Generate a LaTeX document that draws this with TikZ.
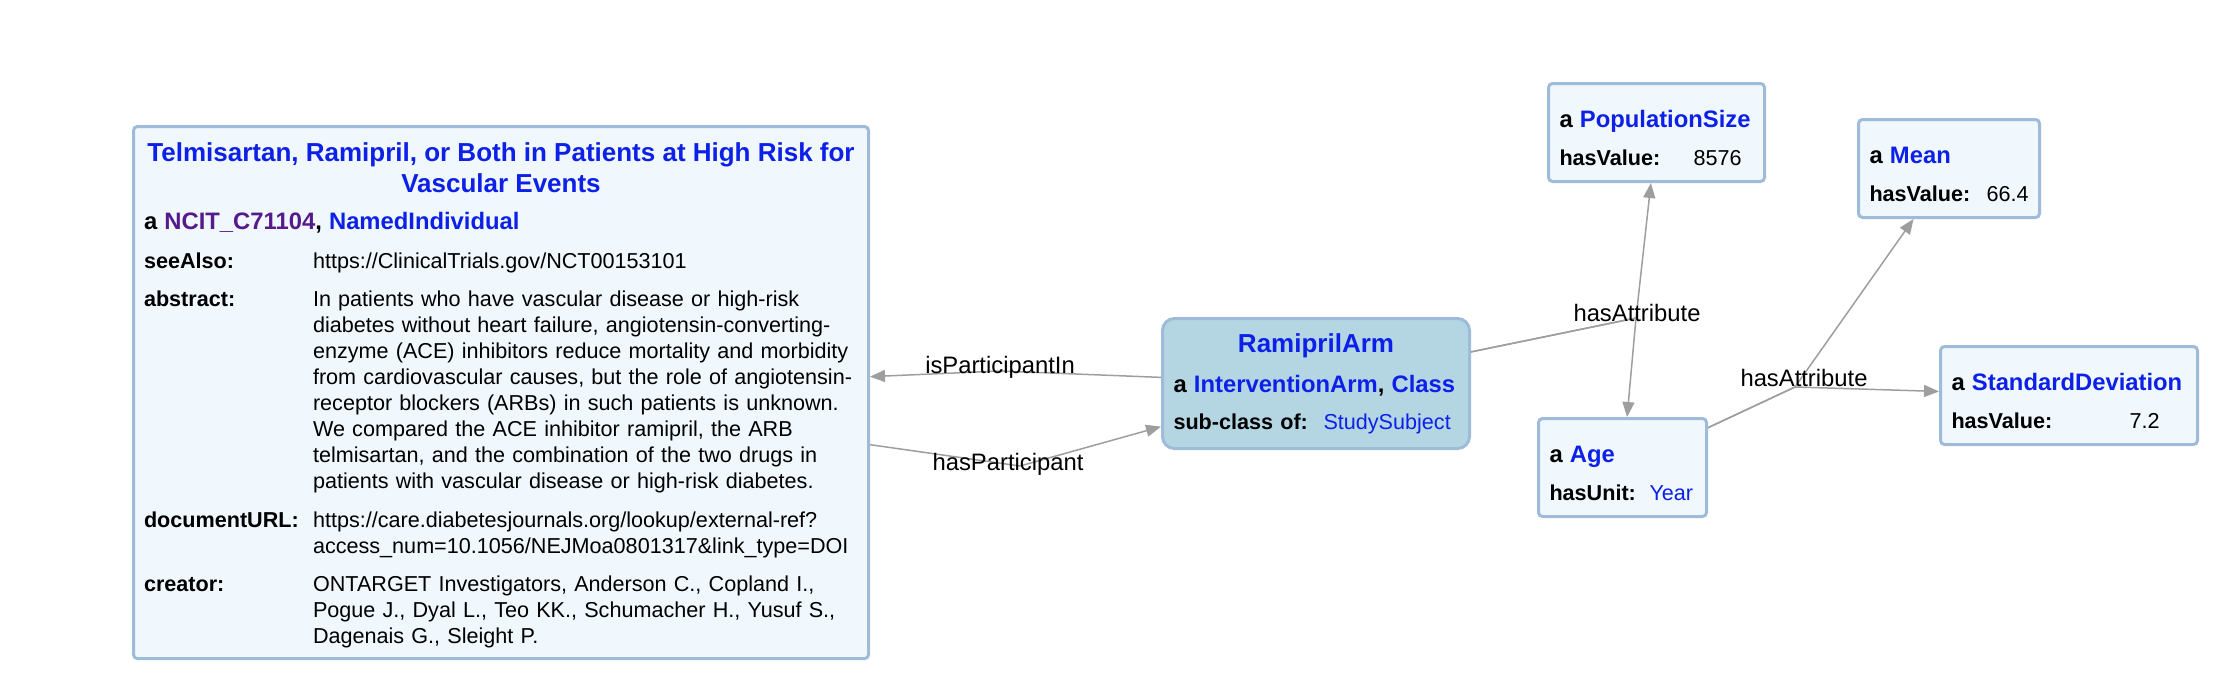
\documentclass[tikz,border=0pt]{standalone}
\usepackage{fontspec}
\setmainfont{Liberation Sans}
\usepackage{array}
\usetikzlibrary{arrows.meta}

\definecolor{linkblue}{RGB}{12,32,232}
\definecolor{visitedpurple}{RGB}{85,26,139}
\definecolor{cardfill}{RGB}{240,247,253}
\definecolor{armfill}{RGB}{180,214,227}
\definecolor{cardframe}{RGB}{158,187,218}
\definecolor{wire}{RGB}{158,158,158}

\newcommand{\heading}[1]{{\fontsize{26}{31}\selectfont\bfseries\color{linkblue}#1}}
\newcommand{\isa}[1]{\mbox{\fontsize{23.8}{28}\selectfont\bfseries a #1}}
\newcommand{\iri}[1]{\textcolor{linkblue}{#1}}
\newcommand{\field}[2]{\makebox[#1][l]{\bfseries #2}}
\newcommand{\topgap}{\rule{0pt}{44pt}}
\newcommand{\botgap}[1][16pt]{\rule[-#1]{0pt}{#1}}

\begin{document}
\begin{tikzpicture}[
  x=1pt,y=-1pt,
  font=\fontsize{21.6}{26}\selectfont,
  card/.style={draw=cardframe,line width=3pt,fill=cardfill,rounded corners=4pt,
    anchor=north west,align=left,inner xsep=11pt,inner ysep=0pt},
  armcard/.style={card,fill=armfill,rounded corners=12pt},
  link/.style={draw=wire,line width=1.5pt,-{Triangle[length=15pt,width=12pt]}},
  rel/.style={font=\fontsize{23.8}{28}\selectfont,inner sep=0pt}
]
\useasboundingbox (0,0) rectangle (2218,696);

\node[card,text width=714pt,inner xsep=10.5pt] (paper) at (132,125) {%
\begin{tabular}{@{}p{169pt}@{}>{\raggedright\arraybackslash}p{545pt}@{}}
\multicolumn{2}{@{}c@{}}{\rule{0pt}{35pt}\heading{Telmisartan, Ramipril, or Both in Patients at High Risk for}}\\[4.5pt]
\multicolumn{2}{@{}c@{}}{\heading{Vascular Events}}\\[11pt]
\multicolumn{2}{@{}l@{}}{\isa{\textcolor{visitedpurple}{NCIT\_C71104}, \iri{NamedIndividual}}}\\[13pt]
\textbf{seeAlso:} & https://ClinicalTrials.gov/NCT00153101\\[12pt]
\textbf{abstract:} & In patients who have vascular disease or high-risk\newline
diabetes without heart failure, angiotensin-converting-\newline
enzyme (ACE) inhibitors reduce mortality and morbidity\newline
from cardiovascular causes, but the role of angiotensin-\newline
receptor blockers (ARBs) in such patients is unknown.\newline
We compared the ACE inhibitor ramipril, the ARB\newline
telmisartan, and the combination of the two drugs in\newline
patients with vascular disease or high-risk diabetes.\\
\noalign{\vskip 13pt}
\textbf{documentURL:} & https://care.diabetesjournals.org/lookup/external-ref?\newline
access\_num=10.1056/NEJMoa0801317\&link\_type=DOI\\
\noalign{\vskip 12pt}
\textbf{creator:} & ONTARGET Investigators, Anderson C., Copland I.,\newline
Pogue J., Dyal L., Teo KK., Schumacher H., Yusuf S.,\newline
Dagenais G., Sleight P.\botgap[15pt]
\end{tabular}};

\node[armcard,text width=285pt] (arm) at (1161,317) {%
{\centering\rule{0pt}{34pt}\heading{RamiprilArm}\par}\vspace{14pt}
\isa{\iri{InterventionArm}, \iri{Class}}\\[11pt]
\field{150pt}{sub-class of:}\iri{StudySubject}\botgap[19pt]};

\node[card,text width=194pt] (popsize) at (1547,82)
{\topgap\isa{\iri{PopulationSize}}\\[12pt]\field{134pt}{hasValue:}8576\botgap};
\node[card,text width=159pt] (mean) at (1857,118)
{\topgap\isa{\iri{Mean}}\\[12pt]\field{117pt}{hasValue:}66.4\botgap};
\node[card,text width=235pt] (stddev) at (1939,345)
{\topgap\isa{\iri{StandardDeviation}}\\[12pt]\field{178pt}{hasValue:}7.2\botgap};
\node[card,text width=146pt] (age) at (1537,417)
{\topgap\isa{\iri{Age}}\\[12pt]\field{100pt}{hasUnit:}\iri{Year}\botgap};

\coordinate (partin) at (1000,371);
\coordinate (haspart) at (1020,466);
\coordinate (armattr) at (1636,318);
\coordinate (ageattr) at (1795,387);

\draw[link] (arm) -- (partin) -- (paper);
\draw[link] (paper) -- (haspart) -- (arm);
\draw[link] (arm) -- (armattr) -- (popsize);
\draw[link] (arm) -- (armattr) -- (age);
\draw[link] (age) -- (ageattr) -- (mean);
\draw[link] (age) -- (ageattr) -- (stddev);

\node[rel] (partinlbl) at (1000,367) {isParticipantIn};
\node[rel] (haspartlbl) at (1008,464) {hasParticipant};
\node[rel] (armattrlbl) at (1637,313) {hasAttribute};
\node[rel] (ageattrlbl) at (1804,378) {hasAttribute};
\end{tikzpicture}
\end{document}
